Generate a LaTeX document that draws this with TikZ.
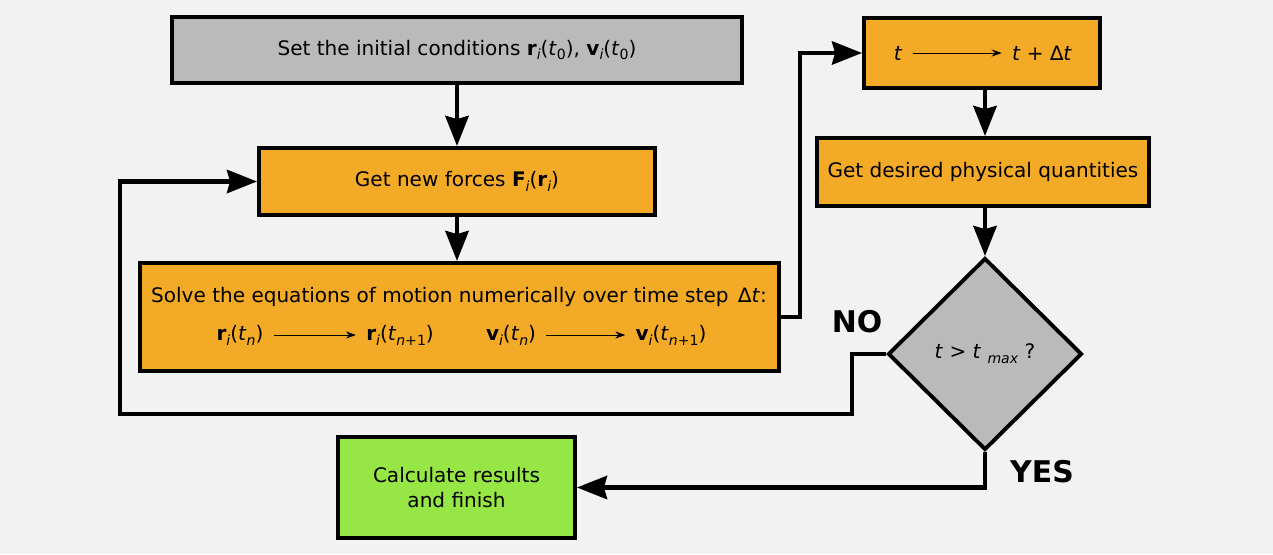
\documentclass[tikz,border=0pt]{standalone}
\usepackage{fontspec}
\setmainfont{DejaVu Sans}
\usepackage{xcolor}
\usetikzlibrary{shapes.geometric,arrows.meta,calc,positioning}
\definecolor{bgcol}{HTML}{F2F2F2}
\definecolor{orangebox}{HTML}{F2AA27}
\definecolor{graybox}{HTML}{BABABA}
\definecolor{greenbox}{HTML}{96E645}
\newcommand{\lowsub}[1]{\raisebox{-0.45ex}{\fontsize{8}{8}\selectfont #1}}
\newcommand{\bv}[2]{\textbf{#1}\lowsub{\textit{i}}(#2)}
\newcommand{\tm}[1]{\textit{t}\lowsub{#1}}
\tikzset{
    box/.style={draw, line width=2.2pt, inner sep=0pt, font=\fontsize{11.4}{14}\selectfont},
    flow/.style={line width=2.8pt, -{Stealth[length=0.6cm, width=0.46cm, inset=0.06cm]}},
    thin flow/.style={line width=0.5pt, shorten <=0.2cm, shorten >=0.2cm, -{Stealth[length=0.2cm, width=0.14cm]}},
    plain/.style={draw=none, inner sep=0pt, font=\fontsize{11.4}{14}\selectfont},
    answer/.style={draw=none, font=\fontsize{17}{20}\selectfont\bfseries}
}

\begin{document}
\begin{tikzpicture}[x=0.02cm, y=-0.02cm]
        % background
        \fill[bgcol] (0,0) rectangle (1273,554);
        \useasboundingbox (0,0) rectangle (1273,554);

        % boxes
        \node[box, fill=graybox, minimum width=11.4cm, minimum height=1.32cm] (init) at (457,50)
            {Set the initial conditions \bv{r}{\tm{0}}, \bv{v}{\tm{0}}};
        \node[box, fill=orangebox, minimum width=7.92cm, minimum height=1.34cm] (forces) at (457,181.5)
            {Get new forces \textbf{F}\lowsub{\textit{i}}(\textbf{r}\lowsub{\textit{i}})};
        \node[box, fill=orangebox, minimum width=12.78cm, minimum height=2.16cm] (solve) at (459.5,317) {};
        \node[box, fill=orangebox, minimum width=4.72cm, minimum height=1.4cm] (tstep) at (982,53) {};
        \node[box, fill=orangebox, minimum width=6.64cm, minimum height=1.36cm] (desired) at (983,172)
            {Get desired physical quantities};
        \node[box, diamond, fill=graybox, minimum width=3.88cm, minimum height=3.84cm] (check) at (985,354)
            {\textit{t} > \textit{t} \lowsub{\textit{max}} ?};
        \node[box, fill=greenbox, minimum width=4.74cm, minimum height=2.02cm, align=center] (finish) at (456.5,487.5)
            {Calculate results\\and finish};

        % Text
        \node[plain] (solvetxt) at (459,297) {Solve the equations of motion numerically over time step \,∆\textit{t}:};
        \node[plain] (rn) at (240,335) {\bv{r}{\tm{\textit{n}}}};
        \node[plain] (rnext) at (400,335) {\bv{r}{\tm{\textit{n}+1}}};
        \node[plain] (vn) at (511,335) {\bv{v}{\tm{\textit{n}}}};
        \node[plain] (vnext) at (671,335) {\bv{v}{\tm{\textit{n}+1}}};
        \node[plain] (told) at (898,53) {\textit{t}};
        \node[plain] (tnew) at (1042,53) {\textit{t} + ∆\textit{t}};
        \node[answer] (no) at (857,322) {NO};
        \node[answer] (yes) at (1042,472) {YES};

        \draw[thin flow] (rn) -- (rnext);
        \draw[thin flow] (vn) -- (vnext);
        \draw[thin flow] (told) -- (tnew);

        % coordinates
        \coordinate (up) at (800,317);
        \coordinate (noa) at (852,414);
        \coordinate (nob) at (120,414);

        % arrows
        \draw[flow] (init) -- (forces);
        \draw[flow] (forces.south) -- (forces.south |- solve.north);
        \draw[flow] (solve.east) -- (up) |- (tstep.west);
        \draw[flow] (tstep.south -| check.north) -- (desired.north -| check.north);
        \draw[flow] (desired.south -| check.north) -- (check.north);
        \draw[flow] (check.west) -| (noa) -- (nob) |- (forces.west);
        \draw[flow] (check.south) |- (finish.east);
        \end{tikzpicture}
\end{document}
